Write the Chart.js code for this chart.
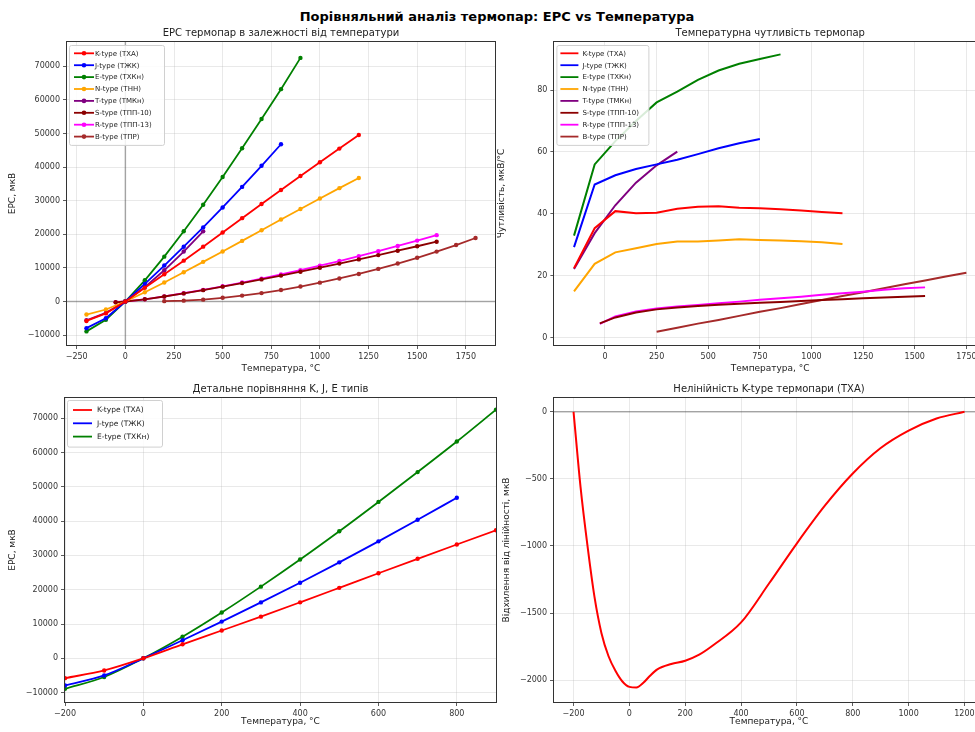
<!DOCTYPE html>
<html>
<head>
<meta charset="utf-8">
<script src="https://cdn.jsdelivr.net/npm/chart.js@4.4.0/dist/chart.umd.min.js"></script>
<style>
body { margin: 0; width: 975px; height: 732px; overflow: hidden; background: #fff; position: relative; }
canvas { position: absolute; }
#title { position: absolute; left: 0; width: 994px; top: 9px; text-align: center; font: bold 13px 'DejaVu Sans'; color: #000; }
</style>
</head>
<body>
<div id="title">Порівняльний аналіз термопар: ЕРС vs Температура</div>
<canvas id="emf" width="500" height="380" style="left:0;top:0"></canvas>
<canvas id="sens" width="500" height="380" style="left:490px;top:0"></canvas>
<canvas id="kje" width="500" height="366" style="left:0;top:366px"></canvas>
<canvas id="nonlin" width="500" height="366" style="left:490px;top:366px"></canvas>
<script>
// ЕРС, мкВ (верхній лівий графік)
const tK = [-200, -100, 0, 100, 200, 300, 400, 500, 600, 700, 800, 900, 1000, 1100, 1200];
const emfK = [-5790, -3540, 0, 4090, 8110, 12150, 16320, 20550, 24800, 29010, 33190, 37340, 41450, 45510, 49530];
const tJ = [-200, -100, 0, 100, 200, 300, 400, 500, 600, 700, 800];
const emfJ = [-7930, -5000, 0, 5250, 10700, 16300, 22050, 27980, 34100, 40380, 46800];
const tE = [-200, -100, 0, 100, 200, 300, 400, 500, 600, 700, 800, 900];
const emfE = [-8900, -5450, 0, 6300, 13350, 20900, 28800, 37050, 45600, 54300, 63200, 72500];
const tN = [-200, -100, 0, 100, 200, 300, 400, 500, 600, 700, 800, 900, 1000, 1100, 1200];
const emfN = [-3890, -2390, 0, 2760, 5650, 8680, 11790, 14900, 18040, 21220, 24380, 27520, 30640, 33730, 36760];
const tT = [-200, -100, 0, 100, 200, 300, 400];
const emfT = [-5603, -3379, 0, 4279, 9288, 14862, 20872];
const tSR = [-50, 0, 100, 200, 300, 400, 500, 600, 700, 800, 900, 1000, 1100, 1200, 1300, 1400, 1500, 1600];
const emfS = [-236, 0, 660, 1480, 2400, 3380, 4410, 5480, 6580, 7710, 8870, 10060, 11280, 12530, 13810, 15110, 16440, 17790];
const emfR = [-226, 0, 650, 1500, 2450, 3460, 4520, 5640, 6810, 8040, 9320, 10650, 12040, 13480, 14970, 16520, 18120, 19750];
const tB = [200, 300, 400, 500, 600, 700, 800, 900, 1000, 1100, 1200, 1300, 1400, 1500, 1600, 1700, 1800];
const emfB = [100, 250, 550, 1100, 1750, 2500, 3400, 4450, 5600, 6850, 8200, 9700, 11300, 13000, 14850, 16800, 18900];

// Чутливість, мкВ/°C (середини інтервалів)
const sT_KN = [-150, -50, 50, 150, 250, 350, 450, 550, 650, 750, 850, 950, 1050, 1150];
const sensK = [22.5, 35.4, 40.9, 40.2, 40.4, 41.7, 42.3, 42.5, 42.0, 41.8, 41.5, 41.1, 40.6, 40.2];
const sensN = [15.0, 23.9, 27.6, 28.9, 30.3, 31.1, 31.1, 31.4, 31.8, 31.6, 31.4, 31.2, 30.9, 30.3];
const sT_J = [-150, -50, 50, 150, 250, 350, 450, 550, 650, 750];
const sensJ = [29.3, 49.5, 52.5, 54.5, 56.0, 57.5, 59.3, 61.2, 62.8, 64.2];
const sT_E = [-150, -50, 50, 150, 250, 350, 450, 550, 650, 750, 850];
const sensE = [33.0, 56.0, 63.5, 70.0, 76.0, 79.5, 83.3, 86.3, 88.5, 90.0, 91.5];
const sT_T = [-150, -50, 50, 150, 250, 350];
const sensT = [22.2, 33.8, 42.8, 50.1, 55.7, 60.1];
const sT_SR = [-25, 50, 150, 250, 350, 450, 550, 650, 750, 850, 950, 1050, 1150, 1250, 1350, 1450, 1550];
const sensS = [4.7, 6.6, 8.2, 9.2, 9.8, 10.3, 10.7, 11.0, 11.3, 11.6, 11.9, 12.2, 12.5, 12.8, 13.0, 13.3, 13.5];
const sensR = [4.5, 6.9, 8.5, 9.5, 10.1, 10.6, 11.2, 11.7, 12.3, 12.8, 13.3, 13.9, 14.4, 14.9, 15.5, 16.0, 16.3];
const sT_B = [250, 350, 450, 550, 650, 750, 850, 950, 1050, 1150, 1250, 1350, 1450, 1550, 1650, 1750];
const sensB = [2.0, 3.3, 4.6, 5.8, 7.1, 8.4, 9.6, 10.9, 12.2, 13.5, 14.7, 16.0, 17.3, 18.5, 19.8, 21.0];

// Відхилення K-type від лінійності, мкВ
const nlT = [-200, -175, -150, -125, -100, -75, -50, -25, 0, 25, 50, 75, 100, 150, 200, 250, 300, 400, 500, 600, 700, 800, 900, 1000, 1100, 1200];
const nlK = [0, -560, -1000, -1380, -1650, -1820, -1930, -2010, -2050, -2055, -2020, -1965, -1920, -1880, -1855, -1810, -1740, -1570, -1280, -980, -700, -460, -270, -140, -50, 0];

// підписи поділок
const ticksEmfX = [-250, 0, 250, 500, 750, 1000, 1250, 1500, 1750];
const ticksEmfY = [-10000, 0, 10000, 20000, 30000, 40000, 50000, 60000, 70000];
const ticksSensX = [0, 250, 500, 750, 1000, 1250, 1500, 1750];
const ticksSensY = [0, 20, 40, 60, 80];
const ticksKjeX = [-200, 0, 200, 400, 600, 800];
const ticksNlX = [-200, 0, 200, 400, 600, 800, 1000, 1200];
const ticksNlY = [-2000, -1500, -1000, -500, 0];

Chart.defaults.font.family = "'DejaVu Sans'";
Chart.defaults.color = '#333';

const gridColor = 'rgba(176,176,176,0.35)';
const fmt = v => (v < 0 ? '\u2212' + Math.abs(v) : String(v));

function axis(min, max, ticks, title, size, titlePad) {
    return {
        type: 'linear', min: min, max: max,
        afterBuildTicks: s => { s.ticks = ticks.map(v => ({ value: v })); },
        afterFit: s => { if (s.isHorizontal()) s.height = size; else s.width = size; },
        grid: { color: gridColor, lineWidth: 0.8, tickLength: 4, tickColor: '#333' },
        border: { display: false },
        ticks: { color: '#333', font: { size: 8 }, padding: 3, maxRotation: 0, autoSkip: false, callback: v => fmt(v) },
        title: { display: true, text: title, color: '#222', font: { size: 9 }, padding: titlePad }
    };
}

function series(label, xs, ys, color, extra) {
    return Object.assign({
        label: label,
        data: xs.map((x, i) => ({ x: x, y: ys[i] })),
        borderColor: color, backgroundColor: color,
        borderWidth: 1.8, pointRadius: 0, fill: false
    }, extra || {});
}

// рамка, нульові лінії, заголовок і легенда всередині осей
const decor = {
    id: 'decor',
    beforeDatasetsDraw(chart, args, o) {
        const { ctx, chartArea: a, scales } = chart;
        ctx.save();
        ctx.strokeStyle = 'rgba(0,0,0,0.3)';
        ctx.lineWidth = 1.5;
        (o.hLines || []).forEach(v => {
            const py = scales.y.getPixelForValue(v);
            ctx.beginPath(); ctx.moveTo(a.left, py); ctx.lineTo(a.right, py); ctx.stroke();
        });
        (o.vLines || []).forEach(v => {
            const px = scales.x.getPixelForValue(v);
            ctx.beginPath(); ctx.moveTo(px, a.top); ctx.lineTo(px, a.bottom); ctx.stroke();
        });
        ctx.restore();
    },
    afterDraw(chart, args, o) {
        const { ctx, chartArea: a } = chart;
        ctx.save();
        ctx.strokeStyle = '#333';
        ctx.lineWidth = 1;
        ctx.strokeRect(Math.round(a.left) - 0.5, Math.round(a.top) - 0.5, Math.round(a.right - a.left) + 1, Math.round(a.bottom - a.top) + 1);

        ctx.fillStyle = '#222';
        ctx.font = "10px 'DejaVu Sans'";
        ctx.textAlign = 'center';
        ctx.textBaseline = 'alphabetic';
        ctx.fillText(o.title, (a.left + a.right) / 2, a.top - 6);

        const L = o.legend;
        if (L) {
            const items = chart.data.datasets.filter(d => d.label);
            const bx = a.left + L.x, by = a.top + L.y;
            const bh = L.first * 2 + L.row * (items.length - 1);
            ctx.fillStyle = 'rgba(255,255,255,0.85)';
            ctx.strokeStyle = '#d0d0d0';
            ctx.lineWidth = 1;
            ctx.beginPath();
            ctx.roundRect(bx + 0.5, by + 0.5, L.w, bh, 2);
            ctx.fill(); ctx.stroke();
            ctx.font = L.font + "px 'DejaVu Sans'";
            ctx.textAlign = 'left';
            ctx.textBaseline = 'middle';
            items.forEach((d, i) => {
                const cy = by + L.first + i * L.row;
                ctx.strokeStyle = d.borderColor;
                ctx.lineWidth = 1.8;
                ctx.beginPath(); ctx.moveTo(bx + L.lineX, cy); ctx.lineTo(bx + L.lineX + L.lineW, cy); ctx.stroke();
                if (L.markers) {
                    ctx.fillStyle = d.borderColor;
                    ctx.beginPath(); ctx.arc(bx + L.lineX + L.lineW / 2, cy, 2.3, 0, Math.PI * 2); ctx.fill();
                }
                ctx.fillStyle = '#222';
                ctx.fillText(d.label, bx + L.textX, cy + 0.5);
            });
        }
        ctx.restore();
    }
};

const colors = { K: 'red', J: 'blue', E: 'green', N: 'orange', T: 'purple', S: 'darkred', R: 'magenta', B: 'brown' };
const names = {
    K: 'K-type (ТХА)', J: 'J-type (ТЖК)', E: 'E-type (ТХКн)', N: 'N-type (ТНН)',
    T: 'T-type (ТМКн)', S: 'S-type (ТПП-10)', R: 'R-type (ТПП-13)', B: 'B-type (ТПР)'
};

function baseOptions(padding, scales, decorOpts) {
    return {
        responsive: false, animation: false, devicePixelRatio: 1,
        layout: { padding: padding },
        scales: scales,
        plugins: { legend: { display: false }, tooltip: { enabled: false }, decor: decorOpts }
    };
}

const mk = { pointRadius: 2.2, pointBorderWidth: 0, pointHoverRadius: 0 };

new Chart(document.getElementById('emf'), {
    type: 'line',
    data: { datasets: [
        series(names.K, tK, emfK, colors.K, mk),
        series(names.J, tJ, emfJ, colors.J, mk),
        series(names.E, tE, emfE, colors.E, mk),
        series(names.N, tN, emfN, colors.N, mk),
        series(names.T, tT, emfT, colors.T, mk),
        series(names.S, tSR, emfS, colors.S, mk),
        series(names.R, tSR, emfR, colors.R, mk),
        series(names.B, tB, emfB, colors.B, mk)
    ] },
    options: baseOptions({ top: 42, right: 5, bottom: 0, left: 0 }, {
        x: axis(-300, 1900, ticksEmfX, 'Температура, °C', 35, { top: 0, bottom: 5.6 }),
        y: axis(-12950, 77230, ticksEmfY, 'ЕРС, мкВ', 67, { top: 7, bottom: 0 })
    }, {
        title: 'ЕРС термопар в залежності від температури',
        hLines: [0], vLines: [0],
        legend: { x: 2, y: 3, w: 95, row: 11.9, first: 8.3, lineX: 5, lineW: 20, textX: 26, font: 7, markers: true }
    }),
    plugins: [decor]
});

const ln = { borderWidth: 2 };
new Chart(document.getElementById('sens'), {
    type: 'line',
    data: { datasets: [
        series(names.K, sT_KN, sensK, colors.K, ln),
        series(names.J, sT_J, sensJ, colors.J, ln),
        series(names.E, sT_E, sensE, colors.E, ln),
        series(names.N, sT_KN, sensN, colors.N, ln),
        series(names.T, sT_T, sensT, colors.T, ln),
        series(names.S, sT_SR, sensS, colors.S, ln),
        series(names.R, sT_SR, sensR, colors.R, ln),
        series(names.B, sT_B, sensB, colors.B, ln)
    ] },
    options: baseOptions({ top: 42, right: 4, bottom: 0, left: 0 }, {
        x: axis(-245, 1845, ticksSensX, 'Температура, °C', 35, { top: 0, bottom: 5.6 }),
        y: axis(-2.3, 95.5, ticksSensY, 'Чутливість, мкВ/°C', 64.4, { top: 6, bottom: 0 })
    }, {
        title: 'Температурна чутливість термопар',
        legend: { x: 2, y: 3, w: 92, row: 11.9, first: 8.3, lineX: 4, lineW: 18, textX: 26, font: 7, markers: false }
    }),
    plugins: [decor]
});

const sm = { pointRadius: 2.2, pointBorderWidth: 0, pointHoverRadius: 0, cubicInterpolationMode: 'monotone' };
new Chart(document.getElementById('kje'), {
    type: 'line',
    data: { datasets: [
        series(names.K, tK, emfK, colors.K, sm),
        series(names.J, tJ, emfJ, colors.J, sm),
        series(names.E, tE, emfE, colors.E, sm)
    ] },
    options: baseOptions({ top: 32, right: 4, bottom: 0, left: 0 }, {
        x: axis(-200, 900, ticksKjeX, 'Температура, °C', 30, { top: 0, bottom: 4.6 }),
        y: axis(-12740, 75900, ticksEmfY, 'ЕРС, мкВ', 65, { top: 7, bottom: 0 })
    }, {
        title: 'Детальне порівняння K, J, E типів',
        legend: { x: 2, y: 2, w: 95, row: 13.3, first: 10, lineX: 6, lineW: 19, textX: 30, font: 7.5, markers: false }
    }),
    plugins: [decor]
});

new Chart(document.getElementById('nonlin'), {
    type: 'line',
    data: { datasets: [
        series('', nlT, nlK, 'red', { borderWidth: 2, cubicInterpolationMode: 'monotone' })
    ] },
    options: baseOptions({ top: 32, right: 6, bottom: 0, left: 0 }, {
        x: axis(-270, 1270, ticksNlX, 'Температура, °C', 30, { top: 0, bottom: 4.6 }),
        y: axis(-2163, 103, ticksNlY, 'Відхилення від лінійності, мкВ', 64, { top: 11.6, bottom: 0 })
    }, {
        title: 'Нелінійність K-type термопари (ТХА)',
        hLines: [0]
    }),
    plugins: [decor]
});
</script>
</body>
</html>
